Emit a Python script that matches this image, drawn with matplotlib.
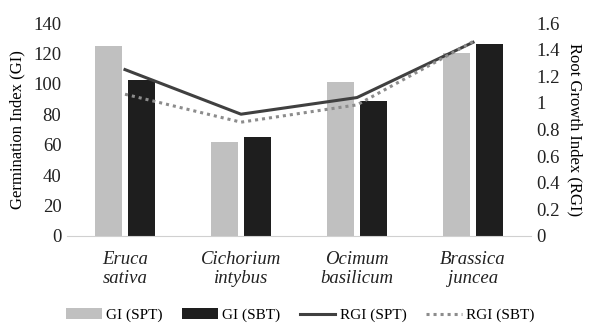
import matplotlib
matplotlib.use("Agg")
import matplotlib.pyplot as plt
import numpy as np

categories = ["Eruca\nsativa", "Cichorium\nintybus", "Ocimum\nbasilicum", "Brassica\njuncea"]
gi_spt = [125, 62, 101.5, 120.5]
gi_sbt = [102.5, 65, 89, 126]
rgi_spt = [1.25, 0.915, 1.04, 1.455]
rgi_sbt = [1.065, 0.855, 0.985, 1.46]

plt.rcParams['font.family'] = ['Liberation Serif', 'DejaVu Serif']

fig = plt.figure(figsize=(5.95, 3.31), dpi=100)
ax = fig.add_axes([67/595, (331-236)/331, 464/595, 213/331])
ax2 = ax.twinx()

x = np.arange(len(categories))
w = 0.23
off = 0.145
b1 = ax.bar(x - off, gi_spt, w, color='#c0c0c0', label='GI (SPT)', zorder=2)
b2 = ax.bar(x + off, gi_sbt, w, color='#1e1e1e', label='GI (SBT)', zorder=2)
l1, = ax2.plot(x, rgi_spt, color='#404040', lw=2.2, label='RGI (SPT)', zorder=3)
l2, = ax2.plot(x, rgi_sbt, color='#8c8c8c', lw=2.2, ls=(0, (1, 1.3)), label='RGI (SBT)', zorder=3)

ax.set_xlim(-0.5, 3.5)
ax.set_ylim(0, 140)
ax.set_yticks(np.arange(0, 141, 20))
ax2.set_ylim(0, 1.6)
ax2.set_yticks(np.arange(0, 1.61, 0.2))
ax2.set_yticklabels(['0', '0.2', '0.4', '0.6', '0.8', '1', '1.2', '1.4', '1.6'])

ax.set_xticks(x)
ax.set_xticklabels(categories, fontstyle='italic', fontsize=15, linespacing=1.1)

for a in (ax, ax2):
    for s in a.spines.values():
        s.set_visible(False)
    a.tick_params(length=0, labelsize=13.5, colors='#222222')
ax.spines['bottom'].set_visible(True)
ax.spines['bottom'].set_color('#d0d0d0')
ax.tick_params(axis='x', pad=11)
ax.tick_params(axis='y', pad=4)
ax2.tick_params(axis='y', pad=4)

ax.set_ylabel('Germination Index (GI)', fontsize=12, labelpad=6)
ax2.set_ylabel('Root Growth Index (RGI)', fontsize=12, rotation=-90, labelpad=16)

handles = [b1, b2, l1, l2]
fig.legend(handles, [h.get_label() for h in handles], loc='center', bbox_to_anchor=(0.505, 0.048),
           ncol=4, frameon=False, fontsize=11, handlelength=2.3, columnspacing=1.3, handletextpad=0.3,
           borderaxespad=0, borderpad=0)

fig.savefig('out.png', dpi=100)
